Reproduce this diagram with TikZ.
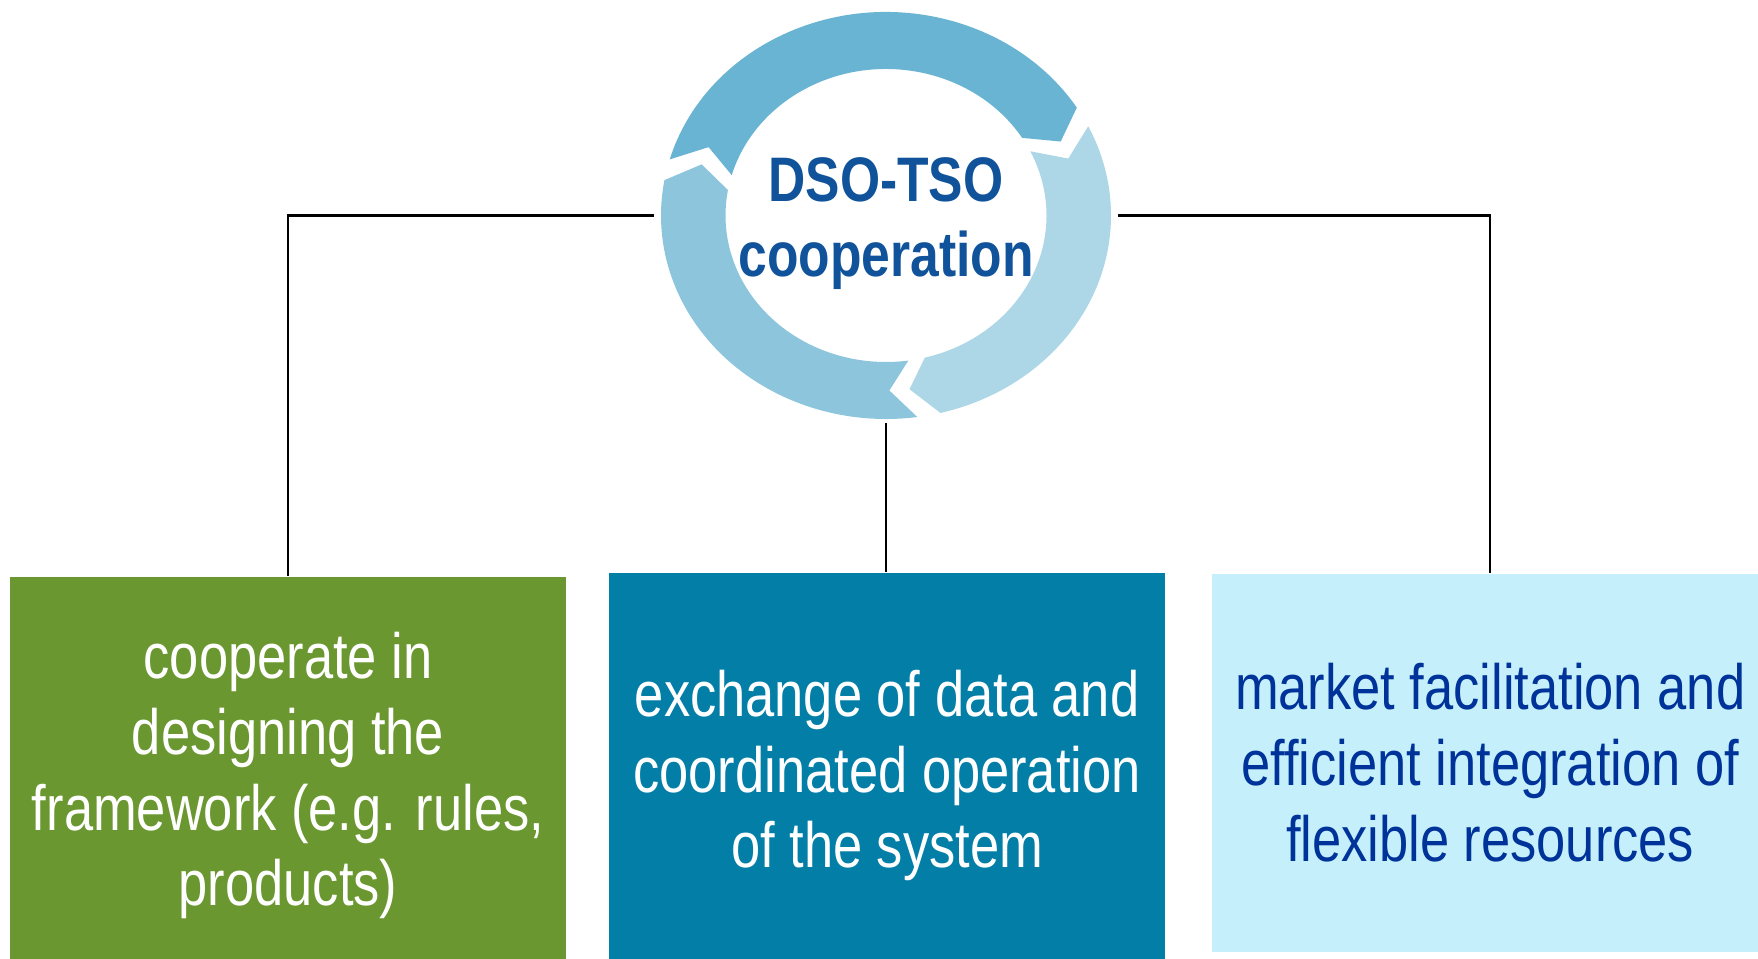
\documentclass[tikz,border=0pt]{standalone}
\usepackage{fontspec}
\setmainfont{Liberation Sans}[FakeStretch=0.82]
\usetikzlibrary{positioning, shapes.geometric}

\definecolor{ringtop}{HTML}{69B3D3}
\definecolor{ringleft}{HTML}{8DC5DD}
\definecolor{ringright}{HTML}{ADD7E7}
\definecolor{titleblue}{HTML}{10539A}
\definecolor{leafgreen}{HTML}{6A972F}
\definecolor{deepteal}{HTML}{037EA7}
\definecolor{paleblue}{HTML}{C6EFFC}
\definecolor{navytext}{HTML}{003399}

\begin{document}
\begin{tikzpicture}[semithick, font=\fontsize{18.2}{21.6}\selectfont,
    box/.style={rectangle, minimum width=5.56cm, align=center, inner sep=0pt}]
    \useasboundingbox (0,0) rectangle (17.58,9.58);
    \clip (0,0) rectangle (17.58,9.58);

    % three arrows going round the title
    \coordinate (c) at (8.86,7.425);
    \foreach \col/\ta/\hd in {ringtop/164/32, ringright/26/-76, ringleft/278/170} {
        \fill[\col, shift={(c)}] (\ta:2.25 and 2.035)
            arc[start angle=\ta, end angle=\hd, x radius=2.25, y radius=2.035]
            -- (\hd-7:1.9275 and 1.75) -- (\hd:1.605 and 1.465)
            arc[start angle=\hd, end angle=\ta, x radius=1.605, y radius=1.465]
            -- (\ta-7:1.9275 and 1.75) -- cycle;
    }
    \node[ellipse, minimum width=4.62cm, minimum height=4.13cm, inner sep=0pt] (ring) at (c) {};
    \node[align=center, text=titleblue, font=\fontsize{17.9}{21.4}\selectfont\bfseries]
      (title) at ([yshift=-0.8mm]ring.center) {DSO-TSO\\cooperation};

    % boxes run past the lower edge
    \node[box, fill=leafgreen, text=white, minimum height=3.97cm] (coop) at (2.88,1.825)
      {cooperate in\\designing the\\framework (e.g. rules,\\products)};
    \node[box, fill=deepteal, text=white, minimum height=4.05cm] (exchange) [right=0.41cm of coop]
      {exchange of data and\\coordinated operation\\of the system};
    \node[box, fill=paleblue, text=navytext, minimum height=3.77cm, yshift=1.25mm] (market) [right=0.45cm of exchange]
      {market facilitation and\\efficient integration of\\flexible resources};

    \draw (ring.west) -| (coop.north);
    \draw (ring.east) -| (market.north);
    \draw (ring.south) -- (ring.south |- exchange.north);
\end{tikzpicture}
\end{document}
